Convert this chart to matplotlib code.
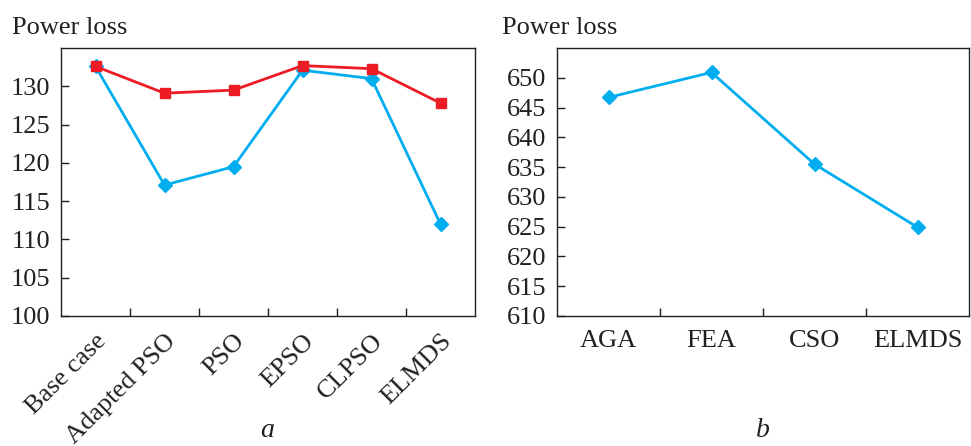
import matplotlib.pyplot as plt

plt.rcParams['font.family'] = ['Liberation Serif', 'DejaVu Serif']

# Panel a data
cats_a = ['Base case', 'Adapted PSO', 'PSO', 'EPSO', 'CLPSO', 'ELMDS']
red_a = [132.6, 129.1, 129.5, 132.7, 132.3, 127.8]
blue_a = [132.6, 117.1, 119.5, 132.1, 131.0, 112.0]
yticks_a = [100, 105, 110, 115, 120, 125, 130]

# Panel b data
cats_b = ['AGA', 'FEA', 'CSO', 'ELMDS']
blue_b = [646.7, 650.9, 635.5, 624.9]
yticks_b = [610, 615, 620, 625, 630, 635, 640, 645, 650]

BLUE = '#00aeef'
RED = '#ed1c24'
DARK = '#231f20'
FS = 19

fig = plt.figure(figsize=(9.71, 4.46), dpi=100)
W, H = 971, 446
ax1 = fig.add_axes([61 / W, (H - 316) / H, 414 / W, 268 / H])
ax2 = fig.add_axes([557 / W, (H - 316) / H, 412 / W, 268 / H])


def style(ax, n, yticks, ylim):
    ax.set_xlim(0, n)
    ax.set_ylim(*ylim)
    ax.set_yticks(yticks)
    # major ticks sit between categories, labels go on the minor ones
    ax.set_xticks(range(1, n))
    ax.set_xticks([i + 0.5 for i in range(n)], minor=True)
    ax.tick_params(axis='x', which='major', direction='in', length=6, width=1,
                   color=DARK, labelbottom=False)
    ax.tick_params(axis='x', which='minor', length=0)
    ax.tick_params(axis='y', direction='in', length=6, width=1, color=DARK,
                   labelsize=FS, labelcolor=DARK, pad=8)
    for s in ax.spines.values():
        s.set_color(DARK)
        s.set_linewidth(1.0)


# panel a
style(ax1, len(cats_a), yticks_a, (100, 135))
xa = [i + 0.5 for i in range(len(cats_a))]
ax1.plot(xa, blue_a, color=BLUE, lw=2, marker='D', ms=7, zorder=3)
ax1.plot(xa, red_a, color=RED, lw=2, marker='s', ms=7.5, zorder=4)
ax1.set_xticklabels(cats_a, minor=True, rotation=45, ha='right',
                    rotation_mode='anchor', fontsize=FS, color=DARK)
ax1.tick_params(axis='x', which='minor', pad=10)

# panel b
style(ax2, len(cats_b), yticks_b, (610, 655))
xb = [i + 0.5 for i in range(len(cats_b))]
ax2.plot(xb, blue_b, color=BLUE, lw=2, marker='D', ms=7, zorder=3)
ax2.set_xticklabels(cats_b, minor=True, fontsize=FS, color=DARK)
ax2.tick_params(axis='x', which='minor', pad=10)

fig.text(12 / W, 1 - 34 / H, 'Power loss', fontsize=FS, color=DARK, va='baseline')
fig.text(502 / W, 1 - 34 / H, 'Power loss', fontsize=FS, color=DARK, va='baseline')
fig.text(267 / W, 1 - 437 / H, 'a', fontsize=20, style='italic', color=DARK,
         ha='center', va='baseline')
fig.text(763 / W, 1 - 437 / H, 'b', fontsize=20, style='italic', color=DARK,
         ha='center', va='baseline')

fig.savefig('out.png', dpi=100)
